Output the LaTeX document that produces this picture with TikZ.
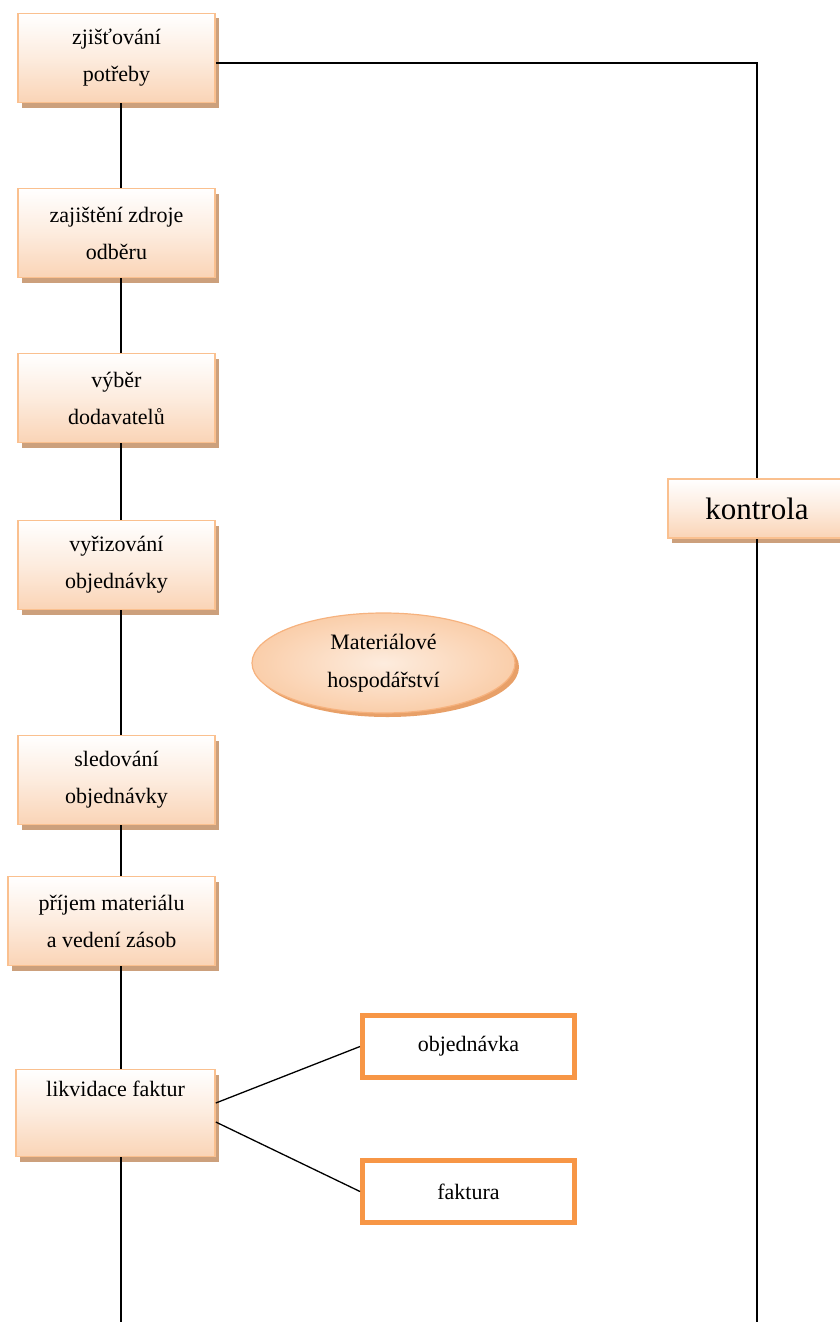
\documentclass[tikz,border=0pt]{standalone}
\usepackage{fontspec}
\setmainfont{LiberationSerif}[Extension=.ttf, UprightFont=*-Regular, BoldFont=*-Bold, ItalicFont=*-Italic, BoldItalicFont=*-BoldItalic]
\usetikzlibrary{shadows,shapes.geometric}

\definecolor{boxedge}{RGB}{250,192,143}
\definecolor{boxpeach}{RGB}{250,212,182}
\definecolor{boxshade}{RGB}{204,160,124}
\definecolor{ovalfill}{RGB}{250,206,170}
\definecolor{ovaltop}{RGB}{253,236,222}
\definecolor{ovaledge}{RGB}{246,178,126}
\definecolor{ovalshade}{RGB}{232,160,104}
\definecolor{docorange}{RGB}{247,150,70}

\tikzset{
  stepbox/.style={
    draw=boxedge, line width=1.6pt,
    top color=white, bottom color=boxpeach, middle color=boxpeach!45,
    minimum width=197, minimum height=89, inner sep=0pt,
    align=center, font=\fontsize{22}{37}\selectfont,
    drop shadow={shadow xshift=4pt, shadow yshift=-5pt, fill=boxshade, opacity=1}},
  ctrlbox/.style={
    draw=boxedge, line width=1.6pt,
    top color=white, bottom color=boxpeach, middle color=boxpeach!45,
    minimum width=178, minimum height=59, inner sep=0pt,
    font=\fontsize{31}{36}\selectfont,
    drop shadow={shadow xshift=4pt, shadow yshift=-5pt, fill=boxshade, opacity=1}},
  docbox/.style={
    draw=docorange, line width=5pt, fill=white,
    minimum width=212, minimum height=62, inner sep=0pt,
    font=\fontsize{22}{26}\selectfont},
  oval/.style={
    ellipse, draw=ovaledge, line width=1.2pt,
    inner color=ovaltop, outer color=ovalfill,
    minimum width=263, minimum height=100, inner sep=0pt,
    align=center, font=\fontsize{22}{38}\selectfont,
    drop shadow={shadow xshift=4pt, shadow yshift=-4pt, fill=ovalshade, opacity=1}},
  link/.style={line width=1.3pt, black}
}

\begin{document}
\begin{tikzpicture}[x=1pt, y=-1pt]
  \useasboundingbox (0,0) rectangle (839,1322);

  % column of procurement steps
  \node[stepbox] (b1) at (116.5,58) {zjišťování\\potřeby};
  \node[stepbox] (b2) at (116.5,233) {zajištění zdroje\\odběru};
  \node[stepbox] (b3) at (116.5,398) {výběr\\dodavatelů};
  \node[stepbox] (b4) at (116.5,565) {vyřizování\\objednávky};
  \node[stepbox] (b5) at (116.5,780) {sledování\\objednávky};
  \node[stepbox, minimum width=207] (b6) at (111.5,921) {příjem materiálu\\a vedení zásob};
  \node[stepbox, minimum width=199, minimum height=87] (b7) at (115.5,1113) {likvidace faktur\\\strut};

  % control box on the right
  \node[ctrlbox] (k) at (757,508.5) {kontrola};

  % central label
  \node[oval] (mh) at (383.5,663) {Materiálové\\hospodářství};

  % documents checked when settling invoices
  \node[docbox] (obj) at (468.5,1046.5) {objednávka};
  \node[docbox] (fak) at (468.5,1191.5) {faktura};

  % spine of the process
  \coordinate (spine) at (121,0);
  \coordinate (endL) at (121,1322);
  \coordinate (endR) at (757,1322);

  \draw[link] (b1.south -| spine) -- (b2.north -| spine);
  \draw[link] (b2.south -| spine) -- (b3.north -| spine);
  \draw[link] (b3.south -| spine) -- (b4.north -| spine);
  \draw[link] (b4.south -| spine) -- (b5.north -| spine);
  \draw[link] (b5.south -| spine) -- (b6.north -| spine);
  \draw[link] (b6.south -| spine) -- (b7.north -| spine);
  \draw[link] (b7.south -| spine) -- (endL);

  % control loop
  \draw[link] ([yshift=-5pt]b1.east) -| (k.north);
  \draw[link] (k.south) -- (endR);

  % invoice branches
  \draw[link] ([yshift=10pt]b7.east) -- (obj.west);
  \draw[link] ([yshift=-9pt]b7.east) -- (fak.west);
\end{tikzpicture}
\end{document}
